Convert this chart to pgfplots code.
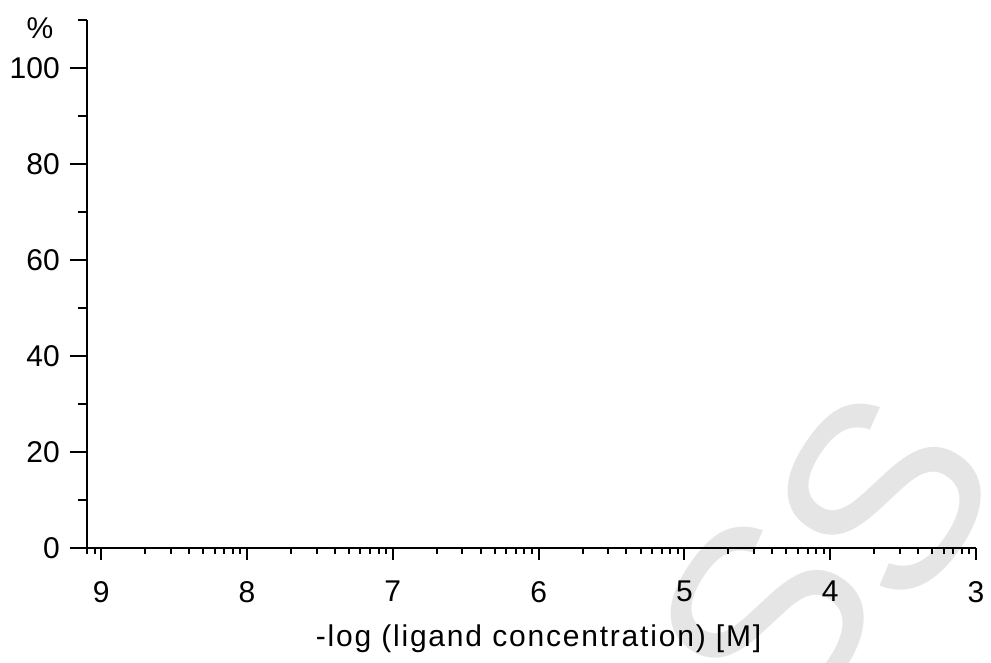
\documentclass[border=0pt]{standalone}
\usepackage{pgfplots}
\pgfplotsset{compat=1.18}
\usepackage{fontspec}
\setmainfont{Liberation Sans}
\newcommand\lblfont{\fontsize{30}{35}\selectfont}
\begin{document}
\begin{tikzpicture}
\useasboundingbox (-87pt,-115pt) rectangle (904pt,548pt);
\clip (-87pt,-115pt) rectangle (904pt,548pt);
% light grey watermark letters behind the axes
\node[text=black!10, font=\fontsize{265}{265}\selectfont, rotate=56, inner sep=0pt] at (796pt,52pt) {S};
\node[text=black!10, font=\fontsize{265}{265}\selectfont, rotate=56, inner sep=0pt] at (679pt,-71pt) {S};
\pgfplotsset{common/.style={
  scale only axis, width=889pt, height=528pt,
  at={(0pt,0pt)}, anchor=south west,
  xmin=-9.0975, xmax=-3, ymin=0, ymax=110,
  axis lines=left, axis line style={-, line width=2pt},
  tick align=outside, tick style={line width=2pt, black},
  /pgf/number format/assume math mode=true,
  ticklabel style={font=\lblfont}}}
\begin{axis}[common,
  major tick length=12pt, minor tick length=6pt,
  ytick=\empty,
  xtick={-9,-8,-7,-6,-5,-4,-3},
  xticklabels={9,8,7,6,5,4,3},
  minor xtick={-3.69897,-3.52288,-3.39794,-3.30103,-3.22185,-3.15490,-3.09691,-3.04576,
   -4.69897,-4.52288,-4.39794,-4.30103,-4.22185,-4.15490,-4.09691,-4.04576,
   -5.69897,-5.52288,-5.39794,-5.30103,-5.22185,-5.15490,-5.09691,-5.04576,
   -6.69897,-6.52288,-6.39794,-6.30103,-6.22185,-6.15490,-6.09691,-6.04576,
   -7.69897,-7.52288,-7.39794,-7.30103,-7.22185,-7.15490,-7.09691,-7.04576,
   -8.69897,-8.52288,-8.39794,-8.30103,-8.22185,-8.15490,-8.09691,-8.04576,
   -9.04576,-9.09691},
  xticklabel style={anchor=north, inner sep=0pt, yshift=-21pt},
  xlabel={-log (ligand concentration) [M]},
  xlabel style={font=\lblfont\addfontfeature{LetterSpace=6}, at={(axis description cs:0.5,0)}, anchor=base, yshift=-99pt, xshift=7pt}]
\end{axis}
\begin{axis}[common,
  major tick length=17pt, minor tick length=8.5pt,
  xtick=\empty,
  ytick={0,20,40,60,80,100},
  minor ytick={10,30,50,70,90,110},
  yticklabel style={anchor=east, inner sep=0pt, xshift=-10pt},
  ylabel={\%},
  ylabel style={font=\lblfont, rotate=-90, at={(axis description cs:-0.0529,0.9848)}, anchor=center}]
\end{axis}
\end{tikzpicture}
\end{document}
